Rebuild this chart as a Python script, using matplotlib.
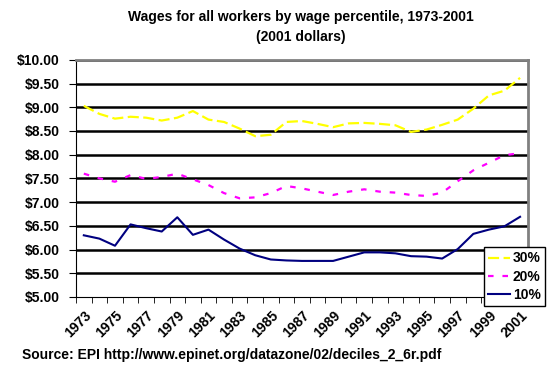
import numpy as np
import matplotlib.pyplot as plt

plt.rcParams['font.family'] = ['Liberation Sans', 'DejaVu Sans']
plt.rcParams['font.weight'] = 'bold'

years = list(range(1973, 2002))
p30 = [9.03, 8.86, 8.76, 8.80, 8.78, 8.72, 8.78, 8.92, 8.74, 8.69, 8.55, 8.39, 8.42, 8.69, 8.71,
       8.65, 8.58, 8.66, 8.67, 8.65, 8.62, 8.48, 8.53, 8.63, 8.74, 8.97, 9.25, 9.35, 9.62]
p20 = [7.60, 7.50, 7.43, 7.57, 7.49, 7.53, 7.60, 7.48, 7.36, 7.19, 7.08, 7.10, 7.19, 7.34, 7.29,
       7.22, 7.15, 7.22, 7.27, 7.22, 7.20, 7.15, 7.13, 7.20, 7.44, 7.67, 7.83, 7.99, 8.03]
p10 = [6.30, 6.23, 6.08, 6.53, 6.45, 6.38, 6.68, 6.31, 6.42, 6.21, 6.02, 5.88, 5.79, 5.77, 5.76,
       5.76, 5.76, 5.85, 5.94, 5.94, 5.92, 5.86, 5.85, 5.81, 6.01, 6.33, 6.42, 6.49, 6.69]

fig = plt.figure(figsize=(5.47, 3.74), dpi=100)
ax = fig.add_axes([0.139, 0.206, 0.826, 0.634])

x = np.arange(len(years))
for v in np.arange(5.5, 10.01, 0.5):
    ax.axhline(v, color='k', lw=1.8, zorder=1)
ax.plot(x, p30, color='#FFFF00', lw=1.6, ls=(0, (5, 2)), label='30%', zorder=3)
ax.plot(x, p20, color='#FF00FF', lw=1.6, ls=(0, (2.5, 4)), label='20%', zorder=3)
ax.plot(x, p10, color='#000080', lw=1.5, label='10%', zorder=3)

ax.set_xlim(-0.5, len(years) - 0.5)
ax.set_ylim(5.0, 10.0)
ax.set_yticks(np.arange(5.0, 10.01, 0.5))
ax.set_yticklabels(['$%.2f' % v for v in np.arange(5.0, 10.01, 0.5)], fontsize=10, fontweight='bold')
ax.set_xticks(x[::2])
ax.set_xticklabels([str(y) for y in years[::2]], rotation=45, ha='right', va='top',
                   fontsize=10, fontweight='bold', rotation_mode='anchor')
ax.set_xticks(np.arange(-0.5, len(years), 1), minor=True)
ax.tick_params(axis='x', which='major', length=0, pad=8)
ax.tick_params(axis='x', which='minor', length=4, direction='out')
ax.tick_params(axis='y', length=5, direction='out', pad=7)

ax.spines['left'].set_color('k')
ax.spines['bottom'].set_color('k')
ax.spines['top'].set_color('#808080')
ax.spines['right'].set_color('#808080')
ax.spines['top'].set_linewidth(2)
ax.spines['right'].set_linewidth(2)

leg = ax.legend(loc='lower left', bbox_to_anchor=(0.902, -0.038), fontsize=10,
                frameon=True, fancybox=False, edgecolor='k', handlelength=1.6,
                handletextpad=0.2, borderpad=0.3, labelspacing=0.3, borderaxespad=0,
                framealpha=1)
leg.get_frame().set_linewidth(1)
for t in leg.get_texts():
    t.set_fontweight('bold')

fig.text(0.55, 0.945, 'Wages for all workers by wage percentile, 1973-2001', ha='center',
         fontsize=10, fontweight='bold')
fig.text(0.55, 0.89, '(2001 dollars)', ha='center', fontsize=10, fontweight='bold')
fig.text(0.04, 0.04, 'Source: EPI http://www.epinet.org/datazone/02/deciles_2_6r.pdf',
         fontsize=10, fontweight='bold')

plt.savefig('out.png', dpi=100)
